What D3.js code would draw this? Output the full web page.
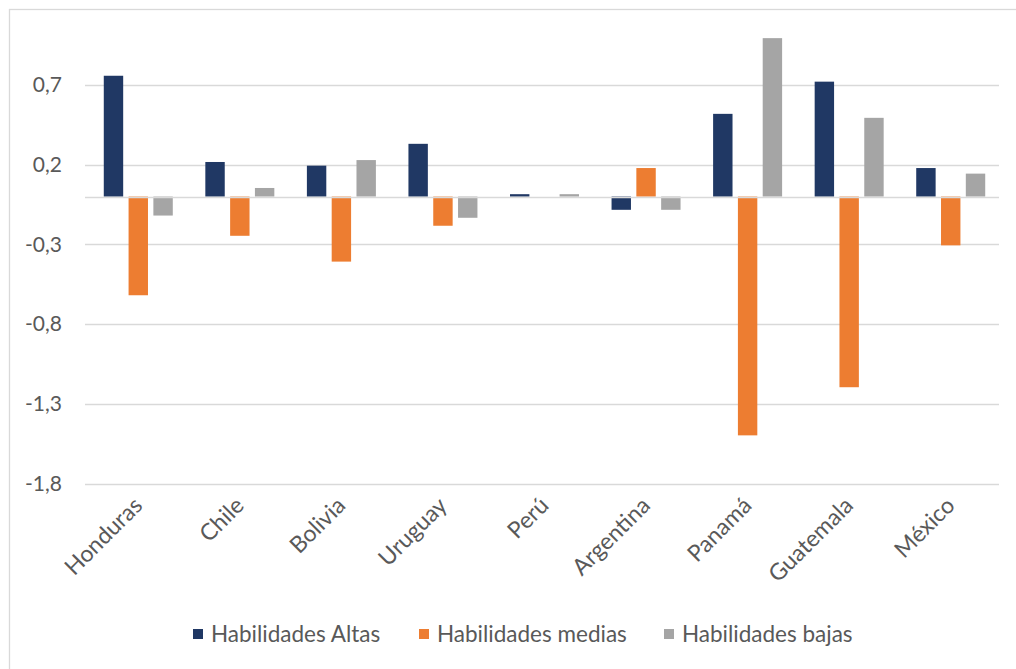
<!DOCTYPE html>
<html>
<head>
<meta charset="utf-8">
<script src="https://cdn.jsdelivr.net/npm/d3@7"></script>
<style>
  html, body { margin: 0; padding: 0; background: #ffffff; }
  svg { display: block; }
</style>
</head>
<body>
<svg id="chart" width="1016" height="669"></svg>
<script>
// Countries along the horizontal axis
const categories = ["Honduras", "Chile", "Bolivia", "Uruguay", "Perú", "Argentina", "Panamá", "Guatemala", "México"];

// One array per skill level, same order as the countries
const habilidadesAltas  = [0.758, 0.217, 0.194, 0.331, 0.015, -0.083, 0.519, 0.721, 0.179];
const habilidadesMedias = [-0.619, -0.246, -0.408, -0.183, 0.0, 0.179, -1.498, -1.196, -0.306];
const habilidadesBajas  = [-0.119, 0.054, 0.229, -0.133, 0.015, -0.083, 0.994, 0.494, 0.144];

const seriesNames = ["Habilidades Altas", "Habilidades medias", "Habilidades bajas"];
const yTickValues = [0.7, 0.2, -0.3, -0.8, -1.3, -1.8];

const series = [
  { name: seriesNames[0], values: habilidadesAltas,  color: "#203864" },
  { name: seriesNames[1], values: habilidadesMedias, color: "#ED7D31" },
  { name: seriesNames[2], values: habilidadesBajas,  color: "#A5A5A5" }
];

const W = 1016, H = 669;
const plot = { left: 85, right: 999, top: 5.3, bottom: 483.5 };
const font = "Lato, 'Open Sans', sans-serif";
const textColor = "#595959";
const gridColor = "#D9D9D9";

const svg = d3.select("#chart");

// Outer chart frame
svg.append("rect")
  .attr("x", 9.5).attr("y", 9.5)
  .attr("width", W + 50).attr("height", H + 50)
  .attr("fill", "none")
  .attr("stroke", gridColor)
  .attr("stroke-width", 1.3);

const x = d3.scaleBand()
  .domain(categories)
  .range([plot.left, plot.right])
  .paddingInner(0).paddingOuter(0);

const y = d3.scaleLinear()
  .domain([-1.8, 1.2])
  .range([plot.bottom, plot.top]);

// Bars inside a group: 18px wide, 5px apart, centred on the category
const barW = 18, barGap = 5;
const groupW = barW * series.length + barGap * (series.length - 1);
const xs = d3.scaleBand()
  .domain(seriesNames)
  .range([0, groupW + barGap])
  .paddingInner(barGap / (barW + barGap))
  .paddingOuter(0);

// Decimal comma and a plain hyphen for negatives
const fmt = v => d3.format(".1f")(v).replace("\u2212", "-").replace(".", ",");

// Gridlines
svg.append("g")
  .selectAll("line")
  .data(yTickValues)
  .join("line")
  .attr("x1", plot.left).attr("x2", plot.right)
  .attr("y1", d => Math.round(y(d)) + 0.5)
  .attr("y2", d => Math.round(y(d)) + 0.5)
  .attr("stroke", gridColor)
  .attr("stroke-width", 1.5);

// Y tick labels
svg.append("g")
  .selectAll("text")
  .data(yTickValues)
  .join("text")
  .attr("x", 62)
  .attr("y", d => y(d))
  .attr("dy", "0.35em")
  .attr("text-anchor", "end")
  .attr("font-family", font)
  .attr("font-size", 21)
  .attr("fill", textColor)
  .text(fmt);

// Bars
const groups = svg.append("g")
  .selectAll("g")
  .data(series)
  .join("g")
  .attr("fill", s => s.color);

groups.selectAll("rect")
  .data(s => s.values.map((v, i) => ({ name: s.name, cat: categories[i], v })))
  .join("rect")
  .attr("x", d => x(d.cat) + (x.bandwidth() - groupW) / 2 + xs(d.name))
  .attr("width", xs.bandwidth())
  .attr("y", d => y(Math.max(0, d.v)))
  .attr("height", d => Math.abs(y(d.v) - y(0)));

// Horizontal axis line at zero
svg.append("line")
  .attr("x1", plot.left).attr("x2", plot.right)
  .attr("y1", Math.round(y(0)) + 0.5).attr("y2", Math.round(y(0)) + 0.5)
  .attr("stroke", gridColor)
  .attr("stroke-width", 1.5);

// Rotated category labels
svg.append("g")
  .selectAll("text")
  .data(categories)
  .join("text")
  .attr("transform", d => `translate(${x(d) + x.bandwidth() / 2 + 8},${507}) rotate(-45)`)
  .attr("text-anchor", "end")
  .attr("font-family", font)
  .attr("font-size", 23)
  .attr("fill", textColor)
  .text(d => d);

// Legend
const legendItems = [
  { name: seriesNames[0], color: series[0].color, x: 193 },
  { name: seriesNames[1], color: series[1].color, x: 419 },
  { name: seriesNames[2], color: series[2].color, x: 664 }
];
const legend = svg.append("g");
const li = legend.selectAll("g")
  .data(legendItems)
  .join("g")
  .attr("transform", d => `translate(${d.x},634)`);
li.append("rect")
  .attr("x", 0).attr("y", -5)
  .attr("width", 10).attr("height", 10)
  .attr("fill", d => d.color);
li.append("text")
  .attr("x", 18)
  .attr("dy", "0.35em")
  .attr("font-family", font)
  .attr("font-size", 22.5)
  .attr("fill", textColor)
  .text(d => d.name);
</script>
</body>
</html>
